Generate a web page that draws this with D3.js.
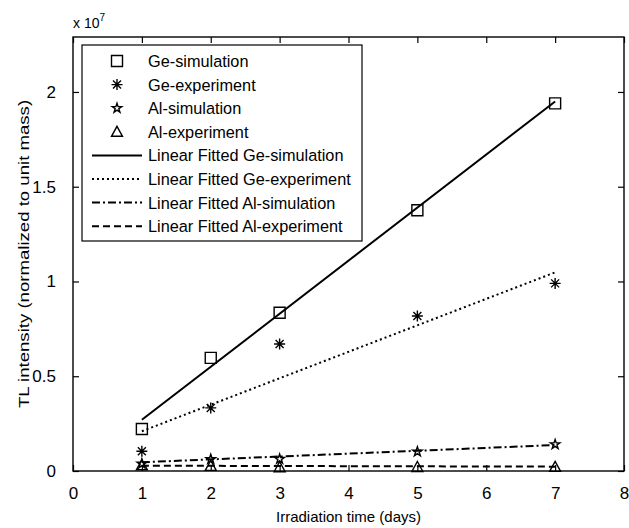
<!DOCTYPE html>
<html>
<head>
<meta charset="utf-8">
<script src="https://d3js.org/d3.v7.min.js"></script>
<style>
  body { margin: 0; background: #fff; }
  text { font-family: "Liberation Sans", Arial, sans-serif; fill: #000; }
</style>
</head>
<body>
<div id="chart"></div>
<script>
// irradiation days and measured TL intensity (per unit mass)
var days = [1, 2, 3, 5, 7];
var geSim = [0.222e7, 0.597e7, 0.835e7, 1.376e7, 1.94e7];
var geExp = [0.104e7, 0.333e7, 0.67e7, 0.818e7, 0.99e7];
var alSim = [0.038e7, 0.062e7, 0.063e7, 0.102e7, 0.14e7];
var alExp = [0.03e7, 0.027e7, 0.02e7, 0.021e7, 0.022e7];

// fitted lines, end points
var fitDays = [1, 7];
var fitGeSim = [0.27e7, 1.95e7];
var fitGeExp = [0.21e7, 1.048e7];
var fitAlSim = [0.046e7, 0.137e7];
var fitAlExp = [0.028e7, 0.023e7];

var xTicks = [0, 1, 2, 3, 4, 5, 6, 7, 8];
var yTicks = [0, 0.5e7, 1e7, 1.5e7, 2e7];

var legendNames = ["Ge-simulation", "Ge-experiment", "Al-simulation", "Al-experiment",
    "Linear Fitted Ge-simulation", "Linear Fitted Ge-experiment",
    "Linear Fitted Al-simulation", "Linear Fitted Al-experiment"];

var width = 629,
    height = 528;
var margin = {top: 37, right: 5, bottom: 57, left: 73};

var svg = d3.select("#chart").append("svg")
    .attr("width", width)
    .attr("height", height);

var x = d3.scaleLinear().domain([0, 8]).range([margin.left, width - margin.right]);
var y = d3.scaleLinear().domain([0, 2.29e7]).range([height - margin.bottom, margin.top]);

var fmtY = function(d) { return d3.format("~g")(d / 1e7); };

// axes, ticks pointing inward on all four sides
svg.append("g")
    .attr("transform", "translate(0," + y(0) + ")")
    .call(d3.axisBottom(x).tickValues(xTicks).tickSizeInner(-6).tickSizeOuter(0).tickPadding(16));
svg.append("g")
    .attr("transform", "translate(" + x(0) + ",0)")
    .call(d3.axisLeft(y).tickValues(yTicks).tickFormat(fmtY).tickSizeInner(-6).tickSizeOuter(0).tickPadding(17));
svg.append("g")
    .attr("transform", "translate(0," + margin.top + ")")
    .call(d3.axisTop(x).tickValues(xTicks).tickFormat("").tickSizeInner(-6).tickSizeOuter(0));
svg.append("g")
    .attr("transform", "translate(" + (width - margin.right) + ",0)")
    .call(d3.axisRight(y).tickValues(yTicks).tickFormat("").tickSizeInner(-6).tickSizeOuter(0));

svg.selectAll(".domain").remove();
svg.selectAll(".tick line").attr("stroke", "#000").attr("stroke-width", 1.2);
svg.selectAll(".tick text").style("font-size", "17px").style("font-family", "Liberation Sans, Arial, sans-serif");

svg.append("rect")
    .attr("x", x(0)).attr("y", margin.top)
    .attr("width", x(8) - x(0)).attr("height", y(0) - margin.top)
    .attr("fill", "none").attr("stroke", "#000").attr("stroke-width", 1.4);

// exponent label
var ex = svg.append("text").attr("x", x(0)).attr("y", 28).style("font-size", "14px");
ex.append("tspan").text("x 10");
ex.append("tspan").attr("dy", -7).style("font-size", "10px").text("7");

svg.append("text")
    .attr("x", (x(0) + x(8)) / 2).attr("y", 522)
    .attr("text-anchor", "middle").style("font-size", "15px")
    .text("Irradiation time (days)");
svg.append("text")
    .attr("transform", "translate(29," + (y(0) + margin.top) / 2 + ") rotate(-90) scale(1.2,1)")
    .attr("text-anchor", "middle").style("font-size", "15.5px")
    .text("TL intensity (normalized to unit mass)");

// fitted lines
var dashes = ["none", "2,3", "8,3,2,3", "7,4"];
var fits = [fitGeSim, fitGeExp, fitAlSim, fitAlExp];
var line = d3.line().x(function(d) { return x(d[0]); }).y(function(d) { return y(d[1]); });

fits.forEach(function(f, i) {
    svg.append("path")
        .datum(d3.zip(fitDays, f))
        .attr("d", line)
        .attr("fill", "none")
        .attr("stroke", "#000")
        .attr("stroke-width", 2)
        .attr("stroke-dasharray", dashes[i]);
});

// marker shapes
function marker(g, type) {
    var p = g.append("path").attr("fill", "none").attr("stroke", "#000").attr("stroke-width", 1.4);
    if (type == 0) p.attr("d", "M-5.5,-5.5H5.5V5.5H-5.5Z");
    else if (type == 1) p.attr("d", "M-5.5,0H5.5M0,-5.5V5.5M-4,-4L4,4M-4,4L4,-4");
    else if (type == 2) p.attr("d", d3.symbol().type(d3.symbolStar).size(28)());
    else p.attr("d", "M0,-5.5L5.5,4.5H-5.5Z");
}

var series = [geSim, geExp, alSim, alExp];
series.forEach(function(s, i) {
    svg.append("g").selectAll("g")
        .data(d3.zip(days, s))
        .enter().append("g")
        .attr("transform", function(d) { return "translate(" + x(d[0]) + "," + y(d[1]) + ")"; })
        .each(function() { marker(d3.select(this), i); });
});

// legend
var lg = svg.append("g");
lg.append("rect")
    .attr("x", 82).attr("y", 45).attr("width", 280).attr("height", 196)
    .attr("fill", "#fff").attr("stroke", "#000").attr("stroke-width", 1.2);

var rows = lg.selectAll("g.row")
    .data(legendNames)
    .enter().append("g")
    .attr("class", "row")
    .attr("transform", function(d, i) { return "translate(0," + (61 + i * 23.6) + ")"; });

rows.append("text")
    .attr("x", 148).attr("y", 6)
    .style("font-size", "16.3px")
    .text(function(d) { return d; });

rows.each(function(d, i) {
    var g = d3.select(this);
    if (i < 4) {
        marker(g.append("g").attr("transform", "translate(117,0)"), i);
    } else {
        g.append("line")
            .attr("x1", 92).attr("x2", 142)
            .attr("stroke", "#000").attr("stroke-width", 2)
            .attr("stroke-dasharray", dashes[i - 4]);
    }
});
</script>
</body>
</html>
